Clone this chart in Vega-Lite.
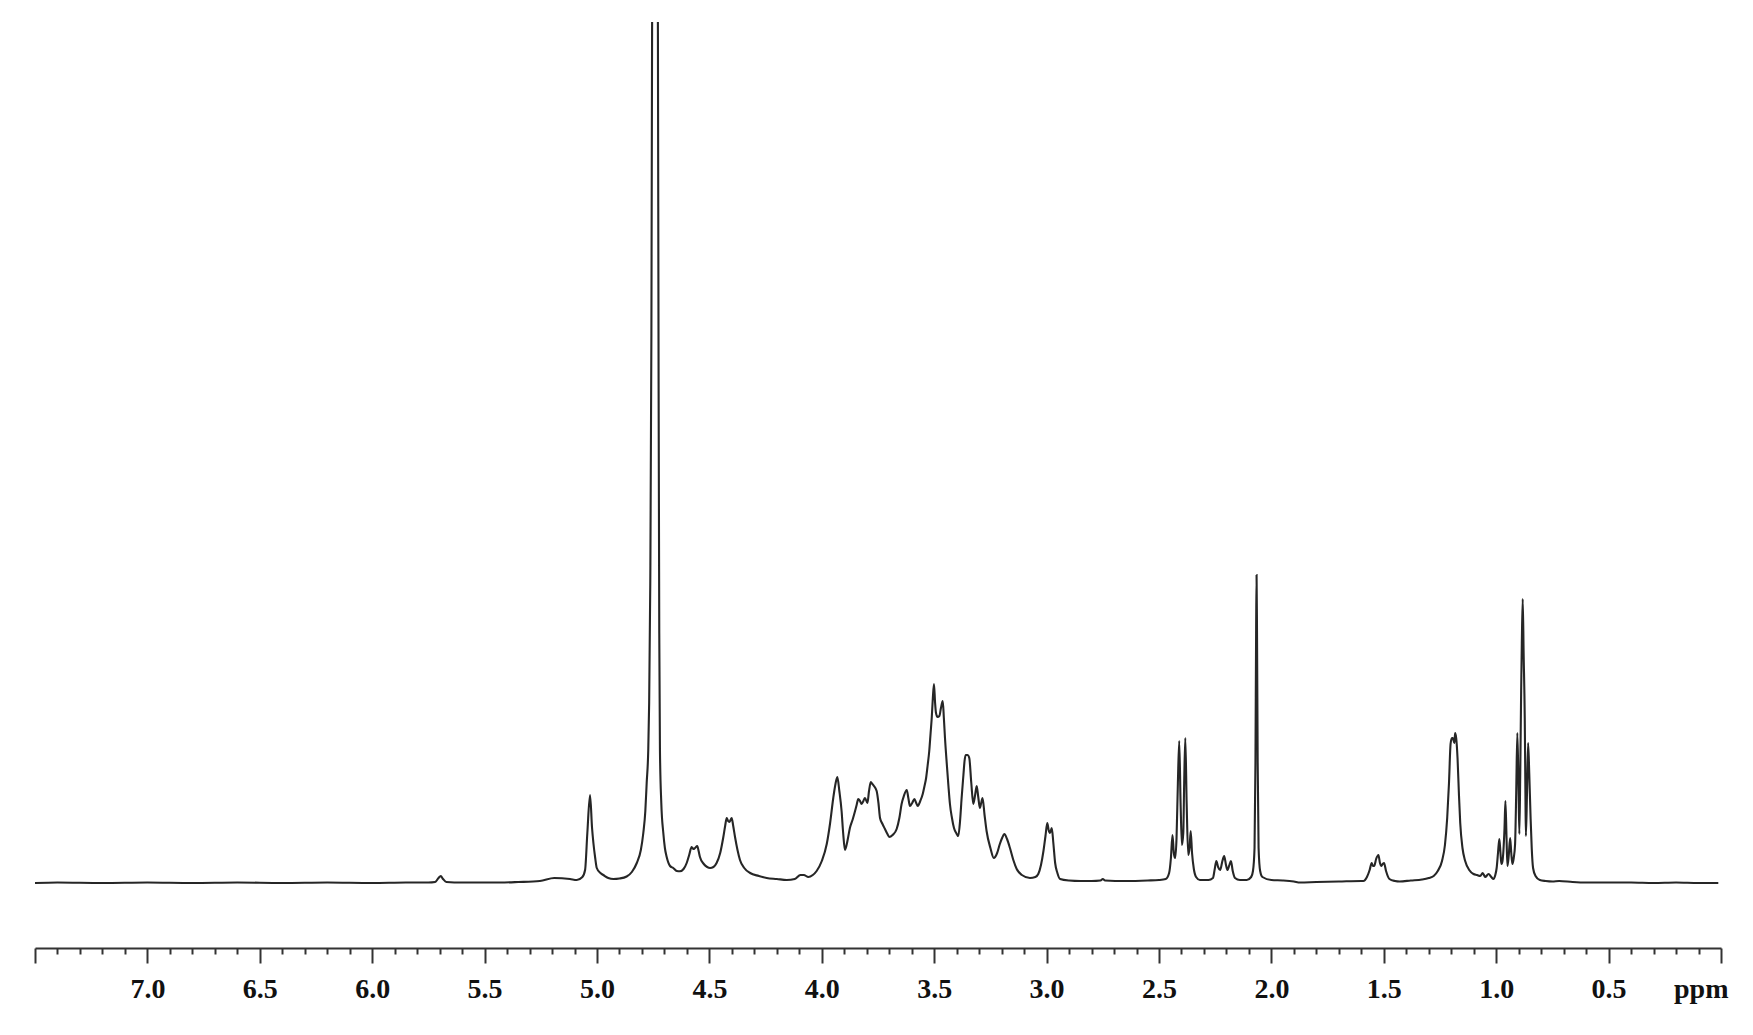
{
"$schema": "https://vega.github.io/schema/vega-lite/v6.json",
"width": 1686, "height": 926,
"autosize": {"type": "none"},
"padding": {"left": 35, "top": 22, "right": 32, "bottom": 87},
"background": "white",
"config": {"view": {"stroke": null}},
"data": {"values": [
{"ppm":7.5,"i":0},{"ppm":7.4,"i":0.5},{"ppm":7.2,"i":0},{"ppm":7.0,"i":0.5},{"ppm":6.8,"i":0},{"ppm":6.6,"i":0.5},{"ppm":6.4,"i":0},{"ppm":6.2,"i":0.5},{"ppm":6.0,"i":0},{"ppm":5.85,"i":0.5},{"ppm":5.75,"i":0.5},{"ppm":5.72,"i":1},{"ppm":5.705,"i":5},{"ppm":5.695,"i":7},{"ppm":5.685,"i":4},{"ppm":5.67,"i":1},{"ppm":5.6,"i":0.5},{"ppm":5.5,"i":0.5},{"ppm":5.43,"i":0.5},{"ppm":5.35,"i":1},{"ppm":5.254,"i":2},{"ppm":5.19,"i":5},{"ppm":5.12,"i":4},{"ppm":5.09,"i":3},{"ppm":5.065,"i":6},{"ppm":5.053,"i":13},{"ppm":5.043,"i":50},{"ppm":5.031,"i":88},{"ppm":5.022,"i":55},{"ppm":5.016,"i":40},{"ppm":5.008,"i":25},{"ppm":5.001,"i":15},{"ppm":4.985,"i":10},{"ppm":4.972,"i":8},{"ppm":4.95,"i":5},{"ppm":4.927,"i":4},{"ppm":4.9,"i":4.5},{"ppm":4.868,"i":6.5},{"ppm":4.845,"i":11},{"ppm":4.823,"i":20},{"ppm":4.805,"i":33},{"ppm":4.794,"i":50},{"ppm":4.785,"i":72},{"ppm":4.779,"i":100},{"ppm":4.772,"i":133},{"ppm":4.768,"i":180},{"ppm":4.763,"i":300},{"ppm":4.758,"i":550},{"ppm":4.755,"i":850},{"ppm":4.748,"i":1300},{"ppm":4.742,"i":1500},{"ppm":4.736,"i":1300},{"ppm":4.729,"i":850},{"ppm":4.726,"i":500},{"ppm":4.723,"i":250},{"ppm":4.72,"i":133},{"ppm":4.714,"i":80},{"ppm":4.705,"i":50},{"ppm":4.698,"i":35},{"ppm":4.69,"i":26},{"ppm":4.675,"i":17},{"ppm":4.661,"i":15},{"ppm":4.645,"i":12},{"ppm":4.631,"i":11.7},{"ppm":4.615,"i":14},{"ppm":4.601,"i":20},{"ppm":4.59,"i":28},{"ppm":4.579,"i":36},{"ppm":4.571,"i":34},{"ppm":4.564,"i":35},{"ppm":4.554,"i":37},{"ppm":4.548,"i":32},{"ppm":4.542,"i":26},{"ppm":4.525,"i":19},{"ppm":4.51,"i":16},{"ppm":4.497,"i":15},{"ppm":4.482,"i":16},{"ppm":4.468,"i":20},{"ppm":4.452,"i":30},{"ppm":4.438,"i":46},{"ppm":4.43,"i":57},{"ppm":4.423,"i":65},{"ppm":4.417,"i":62},{"ppm":4.411,"i":61},{"ppm":4.406,"i":63},{"ppm":4.401,"i":65},{"ppm":4.394,"i":57},{"ppm":4.386,"i":46},{"ppm":4.375,"i":33},{"ppm":4.364,"i":23},{"ppm":4.345,"i":15},{"ppm":4.319,"i":10},{"ppm":4.28,"i":7},{"ppm":4.245,"i":5},{"ppm":4.2,"i":4},{"ppm":4.156,"i":3},{"ppm":4.12,"i":4},{"ppm":4.095,"i":8},{"ppm":4.08,"i":8},{"ppm":4.06,"i":6},{"ppm":4.04,"i":8},{"ppm":4.023,"i":12},{"ppm":4.0,"i":22},{"ppm":3.978,"i":39},{"ppm":3.963,"i":60},{"ppm":3.949,"i":85},{"ppm":3.94,"i":98},{"ppm":3.931,"i":106},{"ppm":3.922,"i":92},{"ppm":3.912,"i":72},{"ppm":3.905,"i":50},{"ppm":3.897,"i":33},{"ppm":3.886,"i":42},{"ppm":3.875,"i":55},{"ppm":3.862,"i":64},{"ppm":3.852,"i":72},{"ppm":3.845,"i":78},{"ppm":3.838,"i":84},{"ppm":3.83,"i":82},{"ppm":3.823,"i":79},{"ppm":3.815,"i":82},{"ppm":3.808,"i":85},{"ppm":3.797,"i":80},{"ppm":3.79,"i":92},{"ppm":3.782,"i":101},{"ppm":3.775,"i":99},{"ppm":3.768,"i":97},{"ppm":3.756,"i":92},{"ppm":3.748,"i":80},{"ppm":3.741,"i":65},{"ppm":3.73,"i":59},{"ppm":3.719,"i":54},{"ppm":3.708,"i":49},{"ppm":3.7,"i":46},{"ppm":3.685,"i":48},{"ppm":3.667,"i":54},{"ppm":3.655,"i":65},{"ppm":3.645,"i":79},{"ppm":3.635,"i":87},{"ppm":3.622,"i":93},{"ppm":3.615,"i":85},{"ppm":3.608,"i":77},{"ppm":3.598,"i":80},{"ppm":3.588,"i":84},{"ppm":3.58,"i":80},{"ppm":3.573,"i":77},{"ppm":3.562,"i":82},{"ppm":3.551,"i":89},{"ppm":3.544,"i":96},{"ppm":3.536,"i":105},{"ppm":3.529,"i":118},{"ppm":3.522,"i":132},{"ppm":3.516,"i":150},{"ppm":3.511,"i":165},{"ppm":3.506,"i":185},{"ppm":3.501,"i":199},{"ppm":3.496,"i":180},{"ppm":3.492,"i":170},{"ppm":3.485,"i":166},{"ppm":3.477,"i":167},{"ppm":3.47,"i":175},{"ppm":3.462,"i":182},{"ppm":3.457,"i":165},{"ppm":3.452,"i":145},{"ppm":3.444,"i":119},{"ppm":3.437,"i":98},{"ppm":3.43,"i":79},{"ppm":3.421,"i":65},{"ppm":3.412,"i":55},{"ppm":3.402,"i":50},{"ppm":3.393,"i":47},{"ppm":3.385,"i":62},{"ppm":3.378,"i":85},{"ppm":3.37,"i":108},{"ppm":3.365,"i":122},{"ppm":3.36,"i":128},{"ppm":3.352,"i":128},{"ppm":3.344,"i":125},{"ppm":3.335,"i":100},{"ppm":3.326,"i":79},{"ppm":3.318,"i":88},{"ppm":3.311,"i":97},{"ppm":3.304,"i":86},{"ppm":3.297,"i":75},{"ppm":3.291,"i":80},{"ppm":3.285,"i":85},{"ppm":3.276,"i":68},{"ppm":3.267,"i":52},{"ppm":3.25,"i":35},{"ppm":3.235,"i":25},{"ppm":3.22,"i":30},{"ppm":3.208,"i":39},{"ppm":3.198,"i":45},{"ppm":3.188,"i":49},{"ppm":3.176,"i":44},{"ppm":3.163,"i":35},{"ppm":3.148,"i":23},{"ppm":3.133,"i":14},{"ppm":3.11,"i":8},{"ppm":3.074,"i":5},{"ppm":3.05,"i":6},{"ppm":3.037,"i":9},{"ppm":3.025,"i":18},{"ppm":3.014,"i":32},{"ppm":3.005,"i":47},{"ppm":2.997,"i":60},{"ppm":2.991,"i":53},{"ppm":2.985,"i":50},{"ppm":2.977,"i":55},{"ppm":2.97,"i":40},{"ppm":2.962,"i":20},{"ppm":2.952,"i":10},{"ppm":2.94,"i":4},{"ppm":2.9,"i":2.5},{"ppm":2.85,"i":2},{"ppm":2.8,"i":2},{"ppm":2.76,"i":2.5},{"ppm":2.75,"i":4},{"ppm":2.74,"i":2.5},{"ppm":2.65,"i":2},{"ppm":2.55,"i":2.5},{"ppm":2.5,"i":3},
{"ppm":2.47,"i":4},{"ppm":2.455,"i":10},{"ppm":2.447,"i":25},{"ppm":2.44,"i":48},{"ppm":2.434,"i":30},{"ppm":2.428,"i":25},{"ppm":2.422,"i":45},{"ppm":2.416,"i":100},{"ppm":2.41,"i":142},{"ppm":2.404,"i":80},{"ppm":2.398,"i":38},{"ppm":2.392,"i":50},{"ppm":2.388,"i":100},{"ppm":2.383,"i":145},{"ppm":2.377,"i":80},{"ppm":2.37,"i":28},{"ppm":2.364,"i":35},{"ppm":2.359,"i":52},{"ppm":2.353,"i":30},{"ppm":2.345,"i":14},{"ppm":2.335,"i":6},{"ppm":2.318,"i":3},{"ppm":2.28,"i":3},{"ppm":2.26,"i":5},{"ppm":2.252,"i":14},{"ppm":2.245,"i":22},{"ppm":2.237,"i":16},{"ppm":2.228,"i":13},{"ppm":2.218,"i":22},{"ppm":2.21,"i":27},{"ppm":2.202,"i":18},{"ppm":2.195,"i":13},{"ppm":2.187,"i":18},{"ppm":2.18,"i":22},{"ppm":2.172,"i":12},{"ppm":2.162,"i":5},{"ppm":2.14,"i":3},{"ppm":2.11,"i":3},{"ppm":2.09,"i":6},{"ppm":2.082,"i":12},{"ppm":2.075,"i":35},{"ppm":2.071,"i":120},{"ppm":2.068,"i":250},{"ppm":2.066,"i":308},{"ppm":2.064,"i":250},{"ppm":2.061,"i":120},{"ppm":2.057,"i":35},{"ppm":2.05,"i":12},{"ppm":2.04,"i":6},{"ppm":2.0,"i":3},{"ppm":1.95,"i":2.5},{"ppm":1.9,"i":1.5},{"ppm":1.873,"i":0.5},{"ppm":1.8,"i":1},{"ppm":1.7,"i":1.5},{"ppm":1.6,"i":2},{"ppm":1.591,"i":2},{"ppm":1.575,"i":6},{"ppm":1.563,"i":13},{"ppm":1.554,"i":20},{"ppm":1.548,"i":17},{"ppm":1.543,"i":17},{"ppm":1.534,"i":24},{"ppm":1.524,"i":28},{"ppm":1.517,"i":20},{"ppm":1.512,"i":17},{"ppm":1.505,"i":19},{"ppm":1.499,"i":20},{"ppm":1.49,"i":12},{"ppm":1.475,"i":4},{"ppm":1.45,"i":2},{"ppm":1.43,"i":1.5},{"ppm":1.38,"i":2.5},{"ppm":1.33,"i":3.5},{"ppm":1.3,"i":5},{"ppm":1.278,"i":7},{"ppm":1.26,"i":12},{"ppm":1.241,"i":22},{"ppm":1.228,"i":38},{"ppm":1.218,"i":65},{"ppm":1.21,"i":100},{"ppm":1.203,"i":139},{"ppm":1.197,"i":145},{"ppm":1.193,"i":145},{"ppm":1.186,"i":140},{"ppm":1.183,"i":150},{"ppm":1.178,"i":145},{"ppm":1.172,"i":125},{"ppm":1.166,"i":90},{"ppm":1.16,"i":60},{"ppm":1.15,"i":35},{"ppm":1.138,"i":22},{"ppm":1.12,"i":13},{"ppm":1.101,"i":9},{"ppm":1.085,"i":8},{"ppm":1.071,"i":7},{"ppm":1.06,"i":10},{"ppm":1.049,"i":6},{"ppm":1.034,"i":9},{"ppm":1.022,"i":6},{"ppm":1.012,"i":4},{"ppm":1.004,"i":8},{"ppm":0.998,"i":15},{"ppm":0.992,"i":30},{"ppm":0.986,"i":44},{"ppm":0.981,"i":30},{"ppm":0.977,"i":19},{"ppm":0.972,"i":22},{"ppm":0.968,"i":32},{"ppm":0.963,"i":55},{"ppm":0.959,"i":82},{"ppm":0.954,"i":45},{"ppm":0.95,"i":17},{"ppm":0.944,"i":28},{"ppm":0.938,"i":45},{"ppm":0.933,"i":30},{"ppm":0.928,"i":19},{"ppm":0.922,"i":25},{"ppm":0.916,"i":39},{"ppm":0.911,"i":90},{"ppm":0.906,"i":150},{"ppm":0.901,"i":100},{"ppm":0.897,"i":49},{"ppm":0.893,"i":110},{"ppm":0.889,"i":192},{"ppm":0.886,"i":240},{"ppm":0.882,"i":284},{"ppm":0.878,"i":230},{"ppm":0.873,"i":165},{"ppm":0.87,"i":90},{"ppm":0.868,"i":47},{"ppm":0.863,"i":90},{"ppm":0.858,"i":140},{"ppm":0.853,"i":110},{"ppm":0.847,"i":65},{"ppm":0.842,"i":35},{"ppm":0.836,"i":15},{"ppm":0.825,"i":7},{"ppm":0.806,"i":3},{"ppm":0.78,"i":2},{"ppm":0.75,"i":1.5},{"ppm":0.72,"i":2},{"ppm":0.66,"i":1},{"ppm":0.6,"i":0.5},{"ppm":0.5,"i":0.5},{"ppm":0.4,"i":0.5},{"ppm":0.3,"i":0},{"ppm":0.2,"i":0.5},{"ppm":0.1,"i":0},{"ppm":0.012,"i":0}
]},
"mark": {"type": "line", "clip": true, "color": "#262626", "strokeWidth": 2.1, "interpolate": "monotone"},
"encoding": {
"x": {"field": "ppm", "type": "quantitative",
"scale": {"domain": [0, 7.5], "reverse": true, "nice": false, "zero": false},
"axis": {"title": null, "grid": false,
"values": [0,0.1,0.2,0.3,0.4,0.5,0.6,0.7,0.8,0.9,1.0,1.1,1.2,1.3,1.4,1.5,1.6,1.7,1.8,1.9,2.0,2.1,2.2,2.3,2.4,2.5,2.6,2.7,2.8,2.9,3.0,3.1,3.2,3.3,3.4,3.5,3.6,3.7,3.8,3.9,4.0,4.1,4.2,4.3,4.4,4.5,4.6,4.7,4.8,4.9,5.0,5.1,5.2,5.3,5.4,5.5,5.6,5.7,5.8,5.9,6.0,6.1,6.2,6.3,6.4,6.5,6.6,6.7,6.8,6.9,7.0,7.1,7.2,7.3,7.4,7.5],
"labelExpr": "(abs(datum.value*2 - round(datum.value*2)) > 0.01 || datum.value > 7.4) ? '' : (datum.value < 0.01 ? 'ppm' : format(datum.value, '.1f'))",
"tickSize": {"condition": {"test": "abs(datum.value*2 - round(datum.value*2)) < 0.01", "value": 15}, "value": 6},
"labelAlign": {"condition": {"test": "datum.value < 0.01", "value": "right"}, "value": "center"},
"labelOffset": {"condition": {"test": "datum.value < 0.01", "value": 7}, "value": 0},
"tickWidth": 2, "tickColor": "#333333", "domainColor": "#333333", "domainWidth": 2,
"labelFont": "Liberation Serif", "labelFontWeight": "bold", "labelFontSize": 28, "labelColor": "#111111",
"labelPadding": 12, "labelOverlap": false, "labelFlush": false}},
"y": {"field": "i", "type": "quantitative", "scale": {"domain": [-65, 861], "nice": false, "zero": false}, "axis": null}
}
}
